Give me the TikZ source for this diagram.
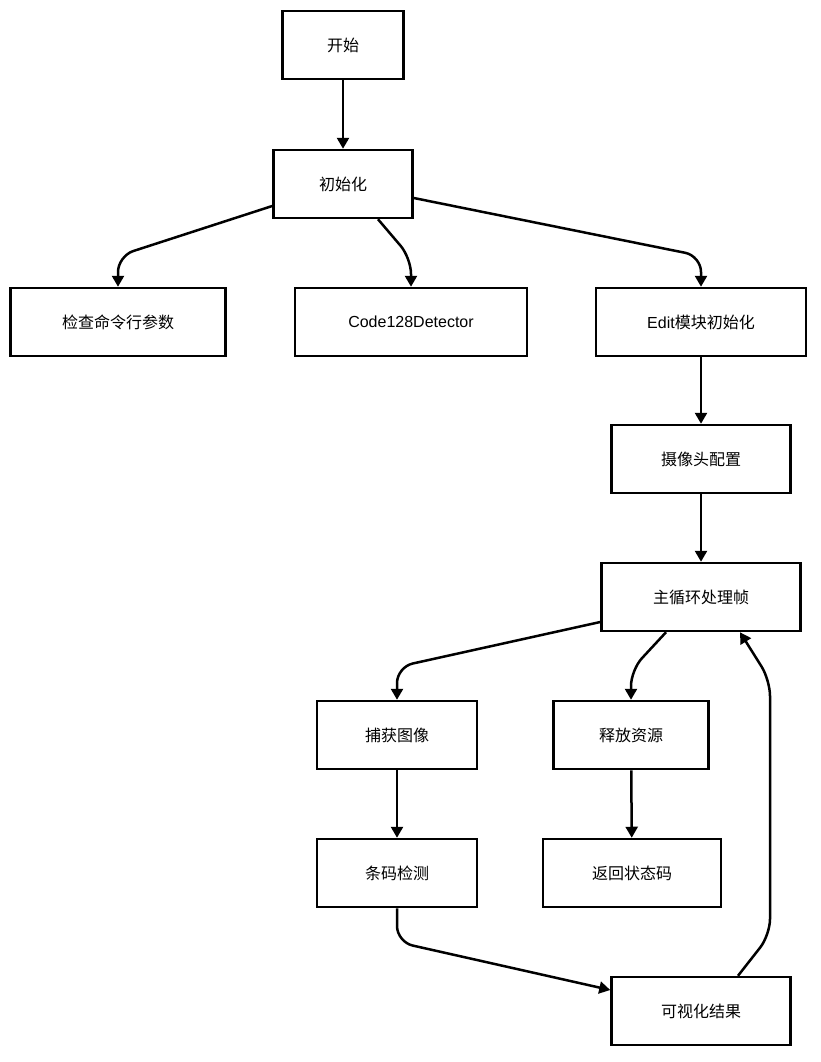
\documentclass[tikz,border=0pt]{standalone}
\usepackage{fontspec}
\setmainfont{Liberation Sans}
\newfontfamily\cjk{Noto Sans CJK SC}
\usetikzlibrary{arrows.meta}
\begin{document}
\begin{tikzpicture}[x=1pt,y=-1pt,
  box/.style={draw,line width=2.5pt,minimum height=68pt,font=\cjk\fontsize{16}{18}\selectfont,inner sep=0pt},
  arr/.style={line width=2.5pt,-{Triangle[length=11pt,width=12pt]},rounded corners=16pt}]
\useasboundingbox (0,0) rectangle (820,1062);
\node[box,minimum width=121pt] (start) at (343,45) {开始};
\node[box,minimum width=139pt] (init) at (343,184) {初始化};
\node[box,minimum width=215pt] (check) at (118,322) {检查命令行参数};
\node[box,minimum width=232pt,font=\fontsize{16}{18}\selectfont] (code) at (411,322) {Code128Detector};
\node[box,minimum width=210pt] (edit) at (701,322) {\fontspec{Liberation Sans}Edit\cjk 模块初始化};
\node[box,minimum width=179pt] (cam) at (701,459) {摄像头配置};
\node[box,minimum width=199pt] (loop) at (701,597) {主循环处理帧};
\node[box,minimum width=160pt] (cap) at (397,735) {捕获图像};
\node[box,minimum width=155pt] (rel) at (631,735) {释放资源};
\node[box,minimum width=160pt] (det) at (397,873) {条码检测};
\node[box,minimum width=178pt] (ret) at (632,873) {返回状态码};
\node[box,minimum width=179pt] (vis) at (701,1011) {可视化结果};
\coordinate (a1) at (118,256); \coordinate (a2) at (411,258); \coordinate (a3) at (701,256);
\coordinate (b1) at (397,667); \coordinate (b2) at (631,670);
\coordinate (c1) at (397,942); \coordinate (d1) at (770,935); \coordinate (d2) at (770,680);
\draw[arr] (start) -- (init);
\draw[arr] ([yshift=-22pt]init.west) -- (a1) -- (check.north);
\draw[arr] ([xshift=35pt]init.south) -- (a2) -- (code.north);
\draw[arr] ([yshift=-14pt]init.east) -- (a3) -- (edit.north);
\draw[arr] (edit) -- (cam);
\draw[arr] (cam) -- (loop);
\draw[arr] ([yshift=-25pt]loop.west) -- (b1) -- (cap.north);
\draw[arr] ([xshift=-35pt]loop.south) -- (b2) -- (rel.north);
\draw[arr] (cap) -- (det);
\draw[arr] (rel) -- (ret);
\draw[arr] (det.south) -- (c1) -- ([yshift=21pt]vis.west);
\draw[arr] ([xshift=37pt]vis.north) -- (d1) -- (d2) -- ([xshift=39pt]loop.south);
\end{tikzpicture}
\end{document}
